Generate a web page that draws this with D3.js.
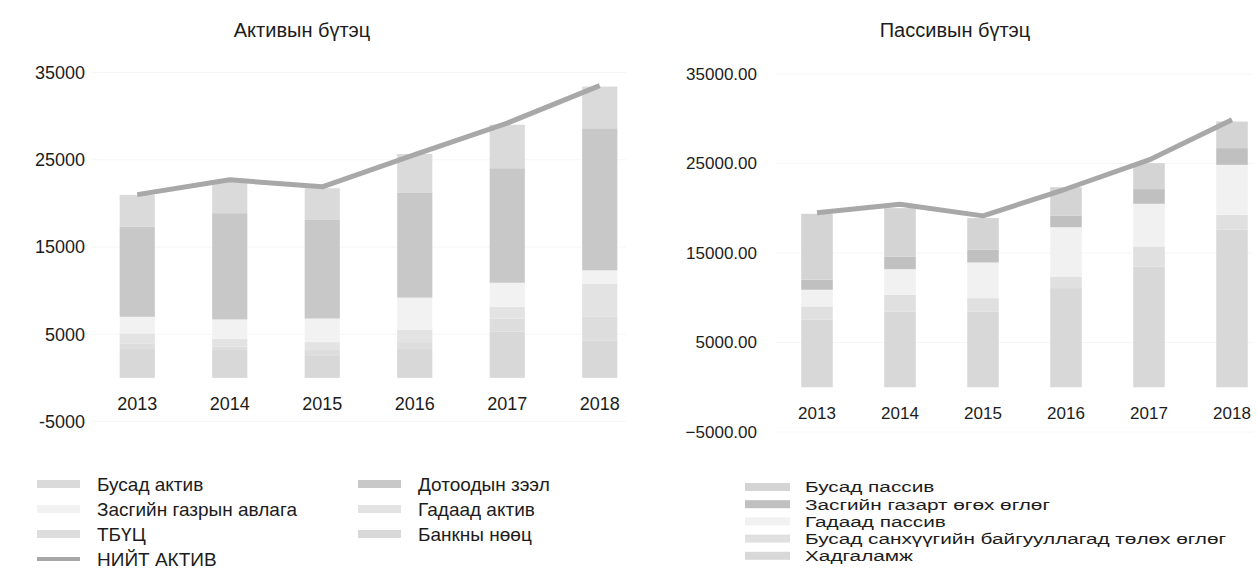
<!DOCTYPE html>
<html>
<head>
<meta charset="utf-8">
<script src="https://cdn.jsdelivr.net/npm/d3@7"></script>
<style>
  body { margin: 0; background: #fff; }
  svg { font-family: "Liberation Sans", Arial, sans-serif; fill: #1c1c1c; }
</style>
</head>
<body>
<svg id="chart" width="1258" height="579"></svg>
<script>
// years shared by both panels
const years = ['2013', '2014', '2015', '2016', '2017', '2018'];
const yTicks = [-5000, 5000, 15000, 25000, 35000];

// assets (bottom -> top of stack)
const bankReserves  = [3400, 3200, 2600, 3400, 5300, 4300];
const cbBills       = [500, 400, 600, 700, 1500, 2700];
const foreignAssets = [1200, 900, 900, 1400, 1340, 3800];
const govClaims     = [1900, 2200, 2700, 3700, 2760, 1530];
const domesticLoans = [10340, 12180, 11300, 12060, 13130, 16280];
const otherAssets   = [3640, 3630, 3640, 4410, 4980, 4780];
const totalAssets   = [21000, 22700, 21900, 25600, 29200, 33500];

// liabilities (bottom -> top of stack)
const deposits      = [7540, 8470, 8470, 11080, 13490, 17590];
const otherFinInst  = [1490, 1860, 1490, 1300, 2240, 1680];
const foreignLiab   = [1860, 2870, 3980, 5500, 4770, 5580];
const govPayables   = [1120, 1410, 1420, 1270, 1640, 1870];
const otherLiab     = [7370, 5400, 3540, 3200, 2900, 2970];
const totalLiab     = [19500, 20450, 19150, 22150, 25400, 29900];

const svg = d3.select('#chart');

function panel(cfg) {
  const x = d3.scaleBand().domain(years).range(cfg.xRange)
    .paddingInner(0.62).paddingOuter(0.31);
  const y = d3.scaleLinear().domain([-5000, 35000]).range(cfg.yRange);
  const g = svg.append('g');

  // faint gridlines
  g.selectAll('.grid').data(yTicks).enter().append('line')
    .attr('x1', cfg.xRange[0]).attr('x2', cfg.xRange[1] - 20)
    .attr('y1', d => y(d)).attr('y2', d => y(d))
    .attr('stroke', '#f6f6f6').attr('stroke-width', 1);

  const rows = years.map((yr, i) => {
    const r = { year: yr };
    cfg.series.forEach(s => r[s.name] = s.values[i]);
    return r;
  });
  const stack = d3.stack().keys(cfg.series.map(s => s.name))(rows);
  const color = d3.scaleOrdinal().domain(cfg.series.map(s => s.name)).range(cfg.series.map(s => s.color));

  g.selectAll('.layer').data(stack).enter().append('g')
    .attr('fill', d => color(d.key))
    .selectAll('rect').data(d => d).enter().append('rect')
    .attr('x', d => x(d.data.year))
    .attr('width', x.bandwidth())
    .attr('y', d => y(d[1]))
    .attr('height', d => y(d[0]) - y(d[1]));

  const line = d3.line().x((d, i) => x(years[i]) + x.bandwidth() / 2).y(d => y(d));
  g.append('path').datum(cfg.total)
    .attr('d', line).attr('fill', 'none')
    .attr('stroke', '#a8a8a8').attr('stroke-width', 5).attr('stroke-linejoin', 'round');

  // y labels
  g.selectAll('.yl').data(yTicks).enter().append('text')
    .attr('x', cfg.yLabelX).attr('y', d => y(d)).attr('dy', '0.35em')
    .attr('text-anchor', 'end').style('font-size', cfg.tickSize + 'px')
    .text(d => cfg.fmt(d));

  // x labels
  g.selectAll('.xl').data(years).enter().append('text')
    .attr('x', d => x(d) + x.bandwidth() / 2).attr('y', cfg.xLabelY).attr('dy', '0.35em')
    .attr('text-anchor', 'middle').style('font-size', cfg.tickSize + 'px')
    .text(d => d);

  g.append('text').attr('x', cfg.titleX).attr('y', 30).attr('dy', '0.35em')
    .attr('text-anchor', 'middle').style('font-size', '20px').text(cfg.title);
}

panel({
  title: 'Активын бүтэц', titleX: 302,
  xRange: [91, 646], yRange: [421.5, 72.5],
  yLabelX: 85, xLabelY: 404, tickSize: 18,
  fmt: d => String(d),
  total: totalAssets,
  series: [
    { name: 'Банкны нөөц', values: bankReserves, color: '#d8d8d8' },
    { name: 'ТБҮЦ', values: cbBills, color: '#dddddd' },
    { name: 'Гадаад актив', values: foreignAssets, color: '#e3e3e3' },
    { name: 'Засгийн газрын авлага', values: govClaims, color: '#f2f2f2' },
    { name: 'Дотоодын зээл', values: domesticLoans, color: '#c8c8c8' },
    { name: 'Бусад актив', values: otherAssets, color: '#dadada' }
  ]
});

panel({
  title: 'Пассивын бүтэц', titleX: 955,
  xRange: [775.5, 1273.5], yRange: [432, 74],
  yLabelX: 757, xLabelY: 413, tickSize: 17,
  fmt: d => d3.format('.2f')(d),
  total: totalLiab,
  series: [
    { name: 'Хадгаламж', values: deposits, color: '#d8d8d8' },
    { name: 'Бусад санхүүгийн байгууллагад төлөх өглөг', values: otherFinInst, color: '#e0e0e0' },
    { name: 'Гадаад пассив', values: foreignLiab, color: '#f1f1f1' },
    { name: 'Засгийн газарт өгөх өглөг', values: govPayables, color: '#c0c0c0' },
    { name: 'Бусад пассив', values: otherLiab, color: '#d4d4d4' }
  ]
});

// legends
const legLeft = [
  { label: 'Бусад актив', color: '#dadada', col: 0, row: 0 },
  { label: 'Засгийн газрын авлага', color: '#f2f2f2', col: 0, row: 1 },
  { label: 'ТБҮЦ', color: '#dddddd', col: 0, row: 2 },
  { label: 'НИЙТ АКТИВ', color: '#a8a8a8', col: 0, row: 3, line: true },
  { label: 'Дотоодын зээл', color: '#c8c8c8', col: 1, row: 0 },
  { label: 'Гадаад актив', color: '#e3e3e3', col: 1, row: 1 },
  { label: 'Банкны нөөц', color: '#d8d8d8', col: 1, row: 2 }
];
const ll = svg.append('g');
ll.selectAll('g').data(legLeft).enter().append('g')
  .attr('transform', d => `translate(${d.col ? 358 : 37},${484 + d.row * 25})`)
  .each(function(d) {
    const s = d3.select(this);
    s.append('rect').attr('x', 0).attr('y', d.line ? -2 : -4)
      .attr('width', 43).attr('height', d.line ? 4 : 8).attr('fill', d.color);
    s.append('text').attr('x', 60).attr('dy', '0.35em').style('font-size', '19px').text(d.label);
  });

const legRight = [
  { label: 'Бусад пассив', color: '#d4d4d4' },
  { label: 'Засгийн газарт өгөх өглөг', color: '#c0c0c0' },
  { label: 'Гадаад пассив', color: '#f1f1f1' },
  { label: 'Бусад санхүүгийн байгууллагад төлөх өглөг', color: '#e0e0e0' },
  { label: 'Хадгаламж', color: '#d8d8d8' }
];
const lr = svg.append('g');
lr.selectAll('g').data(legRight).enter().append('g')
  .attr('transform', (d, i) => `translate(745,${487 + i * 17.2})`)
  .each(function(d) {
    const s = d3.select(this);
    s.append('rect').attr('y', -4).attr('width', 45).attr('height', 8).attr('fill', d.color);
    // the source text is wide for its tight line spacing
    s.append('text').attr('transform', 'translate(60,0) scale(1.34,1)')
      .attr('dy', '0.35em').style('font-size', '15.5px').text(d.label);
  });
</script>
</body>
</html>
